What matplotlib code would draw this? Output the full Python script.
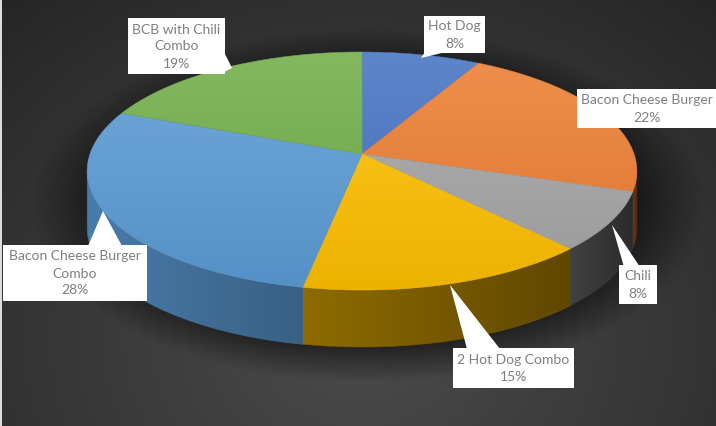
import numpy as np
import matplotlib
matplotlib.use("Agg")
import matplotlib.pyplot as plt
from matplotlib.patches import Polygon, Rectangle
from matplotlib.colors import to_rgb

# ---------------- data ----------------
labels = ["Hot Dog", "Bacon Cheese Burger", "Chili", "2 Hot Dog Combo",
          "Bacon Cheese Burger\nCombo", "BCB with Chili\nCombo"]
values = [8, 22, 8, 15, 28, 19]
colors = ["#4472C4", "#ED7D31", "#A5A5A5", "#FFC000", "#5B9BD5", "#70AD47"]

# ---------------- layout / style ----------------
W, H = 716, 426
CX, CY = 362, 154          # projected apex of the pie
A, B, K = 272, 116.6, 0.143  # ellipse half axes and perspective factor
DEPTH = 57

fig = plt.figure(figsize=(W / 100, H / 100), dpi=100)
ax = fig.add_axes([0, 0, 1, 1])
ax.axis("off")


def proj(theta_deg, depth=0.0):
    t = np.radians(theta_deg)
    u = np.sin(t)
    v = -np.cos(t)
    d = 1 - K * v
    return CX + A * u / d, CY + B * v / d + depth


def grad_fill(pts, c_start, c_end, axis, zorder, lo=None, hi=None):
    pts = np.asarray(pts)
    x0, y0 = pts.min(axis=0)
    x1, y1 = pts.max(axis=0)
    n = 256
    cs, ce = np.array(c_start), np.array(c_end)
    if axis == "x":
        lo = x0 if lo is None else lo
        hi = x1 if hi is None else hi
        xs = np.linspace(x0, x1, n)
        f = np.clip((xs - lo) / max(hi - lo, 1e-6), 0, 1)
        img = (cs[None, :] + (ce - cs)[None, :] * f[:, None])[None, :, :]
        img = np.repeat(img, 2, axis=0)
    else:
        lo = y0 if lo is None else lo
        hi = y1 if hi is None else hi
        ys = np.linspace(y0, y1, n)
        f = np.clip((ys - lo) / max(hi - lo, 1e-6), 0, 1)
        img = (cs[None, :] + (ce - cs)[None, :] * f[:, None])[:, None, :]
        img = np.repeat(img, 2, axis=1)
    im = ax.imshow(np.clip(img, 0, 1), extent=(x0, x1, y1, y0), origin="upper",
                   aspect="auto", interpolation="bilinear", zorder=zorder)
    poly = Polygon(pts, closed=True, facecolor="none", edgecolor="none",
                   transform=ax.transData)
    ax.add_patch(poly)
    im.set_clip_path(poly)
    mid = tuple((cs + ce) / 2)
    ax.add_patch(Polygon(pts, closed=True, facecolor="none", edgecolor=mid,
                         linewidth=0.4, zorder=zorder))


# ---------------- background ----------------
yy, xx = np.mgrid[0:H, 0:W]
r = np.sqrt(((xx - 360) / 560.0) ** 2 + ((yy - 340) / 470.0) ** 2)
r = np.clip(r, 0, 1)
c0 = np.array([0x4a, 0x4a, 0x4a]) / 255
c1 = np.array([0x24, 0x24, 0x24]) / 255
bg = c0[None, None, :] + (c1 - c0)[None, None, :] * (r[..., None] ** 1.1)
ax.imshow(bg, extent=(0, W, H, 0), origin="upper", aspect="auto", zorder=0)

# soft shadow beneath pie
rr = np.sqrt(((xx - 368) / 285.0) ** 2 + ((yy - 205) / 150.0) ** 2)
alpha = 0.55 * np.clip((1.18 - rr) / 0.25, 0, 1)
sh = np.zeros((H, W, 4))
sh[..., 3] = alpha
ax.imshow(sh, extent=(0, W, H, 0), origin="upper", aspect="auto", zorder=1)

ax.add_patch(Rectangle((0, 0), 2, H, facecolor="#dcdcdc", edgecolor="none", zorder=2))

# ---------------- slices ----------------
total = float(sum(values))
bounds = np.concatenate([[0], np.cumsum(values)]) / total * 360.0
vis_lo = 90 + np.degrees(np.arcsin(K))
vis_hi = 270 - np.degrees(np.arcsin(K))

side_shade = {0: (0.5, 0.4), 1: (0.42, 0.36), 2: (0.40, 0.26),
              3: (0.56, 0.37), 4: (0.80, 0.62), 5: (0.6, 0.5)}

# side faces
for i, col in enumerate(colors):
    a0, a1 = bounds[i], bounds[i + 1]
    s0, s1 = max(a0, vis_lo), min(a1, vis_hi)
    if s1 <= s0:
        continue
    th = np.linspace(s0, s1, 80)
    tx, ty = proj(th)
    bx, by = proj(th[::-1], DEPTH)
    pts = np.column_stack([np.concatenate([tx, bx]), np.concatenate([ty, by])])
    base = np.array(to_rgb(col))
    fl, fr = side_shade[i]
    grad_fill(pts, base * fl, base * fr, "x", zorder=3)

# top faces
for i, col in enumerate(colors):
    a0, a1 = bounds[i], bounds[i + 1]
    th = np.linspace(a0, a1, 120)
    tx, ty = proj(th)
    pts = np.column_stack([np.concatenate([[CX], tx]), np.concatenate([[CY], ty])])
    base = np.array(to_rgb(col))
    top = base + (1 - base) * 0.14
    bot = base * 0.93
    grad_fill(pts, top, bot, "y", zorder=4, lo=50, hi=290)

# ---------------- data labels ----------------
pcts = [f"{round(v / total * 100):.0f}%" for v in values]
boxes = [
    (424, 16, 485, 53),
    (577, 89, 716, 128),
    (619, 265, 657, 304),
    (453, 348, 574, 388),
    (3, 245, 147, 301),
    (128, 18, 225, 74),
]
pointers = [
    [(425, 52), (446, 52), (421, 58)],
    None,
    [(624, 267), (640, 267), (612, 225)],
    [(467, 349), (500, 349), (450, 285)],
    [(88, 246), (122, 246), (103, 211)],
    [(223, 50), (224, 72), (232, 68)],
]
for lab, pct, (x0, y0, x1, y1), ptr in zip(labels, pcts, boxes, pointers):
    if ptr is not None:
        ax.add_patch(Polygon(ptr, closed=True, facecolor="white",
                             edgecolor="none", zorder=6))
    ax.add_patch(Rectangle((x0, y0), x1 - x0, y1 - y0, facecolor="white",
                           edgecolor="none", zorder=7))
    ax.text((x0 + x1) / 2, (y0 + y1) / 2 + 0.5, f"{lab}\n{pct}", ha="center",
            va="center", multialignment="center", fontsize=10,
            family=["Lato", "DejaVu Sans"], color="#7f7f7f",
            linespacing=1.5, zorder=8)

ax.set_xlim(0, W)
ax.set_ylim(H, 0)
fig.savefig("out.png", dpi=100)
